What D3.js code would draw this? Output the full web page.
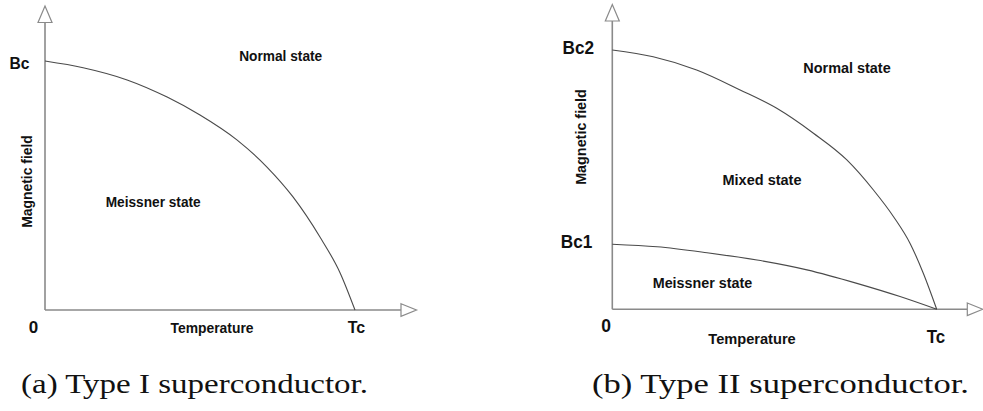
<!DOCTYPE html>
<html><head><meta charset="utf-8">
<script src="https://cdn.jsdelivr.net/npm/d3@7"></script>
<style>
html,body{margin:0;padding:0;background:#fff;}
svg{display:block;}
.lab{font-family:"Liberation Sans",Arial,sans-serif;font-weight:bold;fill:#111;}
.cap{font-family:"Liberation Serif","Times New Roman",serif;fill:#111;}
</style></head>
<body>
<script>
// ---- data (T in units of Tc, B in units of Bc / Bc2) ----
const typeI_T  = [0, 0.123, 0.265, 0.394, 0.5, 0.619, 0.716, 0.8, 0.887, 0.952, 1];
const typeI_B  = [1, 0.973, 0.924, 0.855, 0.783, 0.683, 0.574, 0.454, 0.293, 0.149, 0];
const typeII_upper_T = [0, 0.126, 0.26, 0.394, 0.507, 0.62, 0.723, 0.805, 0.867, 0.918, 0.959, 1];
const typeII_upper_B = [1, 0.974, 0.923, 0.846, 0.775, 0.679, 0.576, 0.46, 0.357, 0.254, 0.138, 0];
const typeII_lower_T = [0, 0.138, 0.292, 0.446, 0.6, 0.754, 0.887, 1];
const typeII_lower_B = [0.251, 0.241, 0.218, 0.19, 0.152, 0.1, 0.049, 0];
const tickLabelsI  = {yTop: "Bc", origin: "0", xEnd: "Tc"};
const tickLabelsII = {yTop: "Bc2", yLow: "Bc1", origin: "0", xEnd: "Tc"};
const captions = ["(a) Type I superconductor.", "(b) Type II superconductor."];

const W = 983, H = 411;
const svg = d3.select("body").append("svg").attr("width", W).attr("height", H);

const axisColor = "#8a8a8a", curveColor = "#4a4a4a";

function drawAxes(g, x0, y0, xEnd, yTop) {
  g.append("line").attr("x1", x0).attr("y1", y0).attr("x2", xEnd).attr("y2", y0)
    .attr("stroke", axisColor).attr("stroke-width", 1.6);
  g.append("line").attr("x1", x0).attr("y1", y0).attr("x2", x0).attr("y2", yTop)
    .attr("stroke", axisColor).attr("stroke-width", 1.6);
  g.append("path").attr("d", `M${xEnd},${y0-6.3}L${xEnd+15.5},${y0}L${xEnd},${y0+6.3}Z`)
    .attr("fill", "#fff").attr("stroke", axisColor).attr("stroke-width", 1.2);
  g.append("path").attr("d", `M${x0-7},${yTop}L${x0},${yTop-16.5}L${x0+7},${yTop}Z`)
    .attr("fill", "#fff").attr("stroke", axisColor).attr("stroke-width", 1.2);
}

function drawCurve(g, x, y, T, B) {
  const pts = T.map((t, i) => [t, B[i]]);
  const line = d3.line().x(d => x(d[0])).y(d => y(d[1])).curve(d3.curveMonotoneX);
  g.append("path").attr("d", line(pts)).attr("fill", "none")
    .attr("stroke", curveColor).attr("stroke-width", 1.1);
}

function label(g, txt, xx, yy, size, anchor, len) {
  const t = g.append("text").attr("class", "lab").attr("x", xx).attr("y", yy)
    .attr("font-size", size).attr("text-anchor", anchor || "middle").text(txt);
  if (len) t.attr("textLength", len).attr("lengthAdjust", "spacingAndGlyphs");
  return t;
}

// ---- Panel (a) ----
{
  const g = svg.append("g");
  const x = d3.scaleLinear().domain([0, 1]).range([45, 355]);
  const y = d3.scaleLinear().domain([0, 1]).range([310, 61]);
  drawAxes(g, x(0), y(0), 401, 22.5);
  drawCurve(g, x, y, typeI_T, typeI_B);
  label(g, tickLabelsI.yTop, 29.5, y(1) + 7.5, 17, "end", 20);
  label(g, tickLabelsI.origin, 33.5, 333, 17);
  label(g, tickLabelsI.xEnd, x(1) + 1.5, 333, 17, "middle", 17.5);
  label(g, "Temperature", 212, 333, 14.6, "middle", 83);
  label(g, "Normal state", 280.7, 61, 14.6, "middle", 83);
  label(g, "Meissner state", 153.2, 207.3, 14.6, "middle", 95);
  g.append("text").attr("class", "lab").attr("font-size", 14.6).attr("text-anchor", "middle")
    .attr("textLength", 92.7).attr("lengthAdjust", "spacingAndGlyphs")
    .attr("transform", "translate(32,181.5) rotate(-90)").text("Magnetic field");
  g.append("text").attr("class", "cap").attr("x", 21).attr("y", 393).attr("font-size", 28)
    .attr("textLength", 347).attr("lengthAdjust", "spacingAndGlyphs").text(captions[0]);
}

// ---- Panel (b) ----
{
  const g = svg.append("g");
  const x = d3.scaleLinear().domain([0, 1]).range([612.3, 936.7]);
  const y = d3.scaleLinear().domain([0, 1]).range([309.3, 50]);
  drawAxes(g, x(0), y(0), 967.3, 21);
  drawCurve(g, x, y, typeII_upper_T, typeII_upper_B);
  drawCurve(g, x, y, typeII_lower_T, typeII_lower_B);
  label(g, tickLabelsII.yTop, 594, 53.5, 17.5, "end", 31.5);
  label(g, tickLabelsII.yLow, 592.3, y(typeII_lower_B[0]) + 4, 17.5, "end", 31.5);
  label(g, tickLabelsII.origin, 606, 332.3, 17.5);
  label(g, tickLabelsII.xEnd, 936, 343.3, 17.5, "middle", 18.5);
  label(g, "Temperature", 752, 344.3, 15.2, "middle", 87.4);
  label(g, "Normal state", 847, 73.3, 15.2, "middle", 87.4);
  label(g, "Mixed state", 762, 185, 15.2, "middle", 79);
  label(g, "Meissner state", 702.5, 288.3, 15.2, "middle", 99.6);
  g.append("text").attr("class", "lab").attr("font-size", 15.2).attr("text-anchor", "middle")
    .attr("textLength", 95.7).attr("lengthAdjust", "spacingAndGlyphs")
    .attr("transform", "translate(585.5,137) rotate(-90)").text("Magnetic field");
  g.append("text").attr("class", "cap").attr("x", 592).attr("y", 393).attr("font-size", 28)
    .attr("textLength", 377).attr("lengthAdjust", "spacingAndGlyphs").text(captions[1]);
}
</script>
</body></html>
